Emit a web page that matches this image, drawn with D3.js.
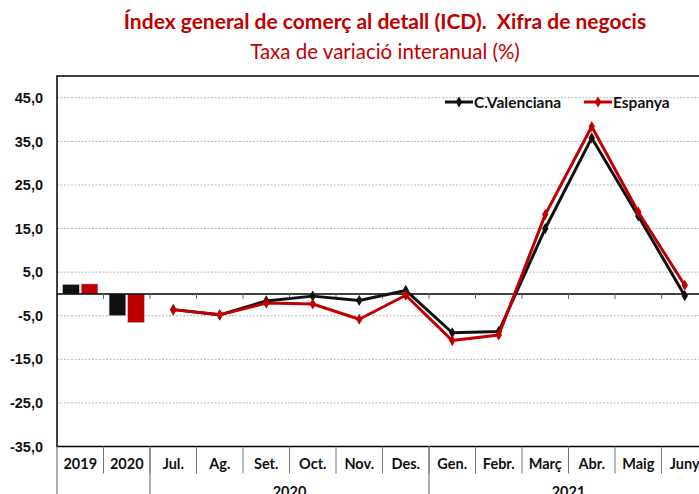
<!DOCTYPE html>
<html>
<head>
<meta charset="utf-8">
<script src="https://cdn.jsdelivr.net/npm/d3@7"></script>
<style>
    body { margin: 0; background: #fff; }
    svg { font-family: Lato, "Open Sans", sans-serif; }
    .title { fill: #c00000; font-weight: bold; font-size: 21px; }
    .subtitle { fill: #c00000; font-size: 20.5px; }
    .tickLabel { font-weight: bold; font-size: 14.5px; fill: #111; }
    .catLabel { font-weight: bold; font-size: 14.5px; fill: #111; }
    .legendLabel { font-weight: bold; font-size: 15.5px; fill: #111; }
</style>
</head>
<body>
<svg id="chart"></svg>
<script>
// Categories on the x axis
const categories = ['2019', '2020', 'Jul.', 'Ag.', 'Set.', 'Oct.', 'Nov.', 'Des.', 'Gen.', 'Febr.', 'Març', 'Abr.', 'Maig', 'Juny'];

// Annual values (bars)
const annualCats = ['2019', '2020'];
const annualCV = [2.2, -5.0];
const annualES = [2.3, -6.6];

// Monthly values (lines)
const monthCats = ['Jul.', 'Ag.', 'Set.', 'Oct.', 'Nov.', 'Des.', 'Gen.', 'Febr.', 'Març', 'Abr.', 'Maig', 'Juny'];
const monthlyCV = [-3.6, -4.8, -1.6, -0.5, -1.5, 0.8, -8.9, -8.6, 15.0, 35.8, 17.9, -0.4];
const monthlyES = [-3.6, -4.8, -2.1, -2.3, -5.8, -0.3, -10.7, -9.4, 18.2, 38.4, 18.8, 2.0];

// Second level of the category axis
const groupLabels = ['', '2020', '2021'];
const groupStarts = ['2019', 'Jul.', 'Gen.'];
const groupEnds = ['2020', 'Des.', 'Juny'];

const yTicks = [-35, -25, -15, -5, 5, 15, 25, 35, 45];
const seriesNames = ['C.Valenciana', 'Espanya'];

const colors = { cv: '#111111', es: '#c00000' };

const config = {
    width: 699,
    height: 494,
    margin: { top: 76, left: 57 },
    plotWidth: 651,
    plotHeight: 370.5
};

const svg = d3.select('#chart')
    .attr('width', config.width)
    .attr('height', config.height);

const x0 = config.margin.left;
const y0 = config.margin.top;
const xRight = x0 + config.plotWidth;
const yBottom = y0 + config.plotHeight;

const xScale = d3.scaleBand()
    .domain(categories)
    .range([x0, xRight])
    .padding(0);

const yScale = d3.scaleLinear()
    .domain([-35, 50])
    .range([yBottom, y0]);

const barScale = d3.scaleBand()
    .domain(['cv', 'es'])
    .range([0, xScale.bandwidth()])
    .paddingInner(0.1)
    .paddingOuter(0.3);

const locale = d3.formatLocale({ decimal: ',', thousands: '.', grouping: [3], currency: ['', '€'], minus: '-' });
const fmt = locale.format('.1f');

// Titles
svg.append('text')
    .attr('class', 'title')
    .attr('x', 385)
    .attr('y', 29)
    .attr('text-anchor', 'middle')
    .text('Índex general de comerç al detall (ICD).\u00a0 Xifra de negocis');

svg.append('text')
    .attr('class', 'subtitle')
    .attr('x', 385)
    .attr('y', 59)
    .attr('text-anchor', 'middle')
    .text('Taxa de variació interanual (%)');

// Gridlines
svg.append('g')
    .selectAll('line')
    .data(yTicks.filter(d => d !== -35))
    .join('line')
    .attr('x1', x0)
    .attr('x2', xRight)
    .attr('y1', d => yScale(d))
    .attr('y2', d => yScale(d))
    .attr('stroke', '#b5b5b5')
    .attr('stroke-width', 1)
    .attr('stroke-dasharray', '2,1.5');

// Y axis labels
const yAxis = d3.axisLeft(yScale)
    .tickValues(yTicks)
    .tickFormat(fmt)
    .tickSize(0)
    .tickPadding(14);

const yAxisG = svg.append('g')
    .attr('transform', `translate(${x0},0)`)
    .call(yAxis);
yAxisG.select('.domain').remove();
yAxisG.selectAll('text')
    .attr('class', 'tickLabel')
    .attr('font-family', null)
    .attr('font-size', null);

// Bars for annual values
const barData = [];
annualCats.forEach((c, i) => {
    barData.push({ cat: c, key: 'cv', value: annualCV[i] });
    barData.push({ cat: c, key: 'es', value: annualES[i] });
});

svg.append('g')
    .selectAll('rect')
    .data(barData)
    .join('rect')
    .attr('x', d => xScale(d.cat) + barScale(d.key))
    .attr('width', barScale.bandwidth())
    .attr('y', d => yScale(Math.max(0, d.value)))
    .attr('height', d => Math.abs(yScale(d.value) - yScale(0)))
    .attr('fill', d => colors[d.key])
    .attr('stroke', '#c8c8c8')
    .attr('stroke-width', 0.6);

// Zero line with ticks at category boundaries
svg.append('line')
    .attr('x1', x0)
    .attr('x2', xRight)
    .attr('y1', yScale(0))
    .attr('y2', yScale(0))
    .attr('stroke', '#000')
    .attr('stroke-width', 1.4);

svg.append('g')
    .selectAll('line')
    .data(categories.slice(1))
    .join('line')
    .attr('x1', d => xScale(d))
    .attr('x2', d => xScale(d))
    .attr('y1', yScale(0))
    .attr('y2', yScale(0) + 5)
    .attr('stroke', '#666')
    .attr('stroke-width', 1);

// Lines
const line = d3.line()
    .x((d, i) => xScale(monthCats[i]) + xScale.bandwidth() / 2)
    .y(d => yScale(d));

const diamond = d3.symbol().type(d3.symbolDiamond).size(36);

function drawSeries(values, color) {
    svg.append('path')
        .datum(values)
        .attr('d', line)
        .attr('fill', 'none')
        .attr('stroke', color)
        .attr('stroke-width', 3)
        .attr('stroke-linejoin', 'round');

    svg.append('g')
        .selectAll('path')
        .data(values)
        .join('path')
        .attr('d', diamond)
        .attr('transform', (d, i) => `translate(${xScale(monthCats[i]) + xScale.bandwidth() / 2},${yScale(d)})`)
        .attr('fill', color);
}

drawSeries(monthlyCV, colors.cv);
drawSeries(monthlyES, colors.es);

// Plot border
svg.append('rect')
    .attr('x', x0)
    .attr('y', y0)
    .attr('width', config.plotWidth)
    .attr('height', config.plotHeight)
    .attr('fill', 'none')
    .attr('stroke', '#000')
    .attr('stroke-width', 1.5);

// Category axis: first level
const catBottom = yBottom + 27;
svg.append('g')
    .selectAll('line')
    .data(categories.slice(1))
    .join('line')
    .attr('x1', d => xScale(d))
    .attr('x2', d => xScale(d))
    .attr('y1', yBottom)
    .attr('y2', catBottom)
    .attr('stroke', '#777')
    .attr('stroke-width', 1);

svg.append('g')
    .selectAll('text')
    .data(categories)
    .join('text')
    .attr('class', 'catLabel')
    .attr('x', d => xScale(d) + xScale.bandwidth() / 2)
    .attr('y', yBottom + 22)
    .attr('text-anchor', 'middle')
    .text(d => d);

// Category axis: second level (years)
svg.append('g')
    .selectAll('line')
    .data(groupStarts.concat([groupEnds[groupEnds.length - 1]]))
    .join('line')
    .attr('x1', (d, i) => i < groupStarts.length ? xScale(d) : xScale(d) + xScale.bandwidth())
    .attr('x2', (d, i) => i < groupStarts.length ? xScale(d) : xScale(d) + xScale.bandwidth())
    .attr('y1', yBottom)
    .attr('y2', config.height)
    .attr('stroke', '#777')
    .attr('stroke-width', 1.2);

svg.append('g')
    .selectAll('text')
    .data(groupLabels)
    .join('text')
    .attr('class', 'catLabel')
    .attr('x', (d, i) => (xScale(groupStarts[i]) + xScale(groupEnds[i]) + xScale.bandwidth()) / 2)
    .attr('y', yBottom + 50)
    .attr('text-anchor', 'middle')
    .text(d => d);

// Legend
const legendX = [445, 584];
const legend = svg.append('g')
    .selectAll('g')
    .data(seriesNames)
    .join('g')
    .attr('transform', (d, i) => `translate(${legendX[i]},102)`);

legend.append('line')
    .attr('x1', 0)
    .attr('x2', 28)
    .attr('stroke', (d, i) => i === 0 ? colors.cv : colors.es)
    .attr('stroke-width', 3);

legend.append('path')
    .attr('d', diamond)
    .attr('transform', 'translate(14,0)')
    .attr('fill', (d, i) => i === 0 ? colors.cv : colors.es);

legend.append('text')
    .attr('class', 'legendLabel')
    .attr('x', 29)
    .attr('y', 5.5)
    .text(d => d);
</script>
</body>
</html>
